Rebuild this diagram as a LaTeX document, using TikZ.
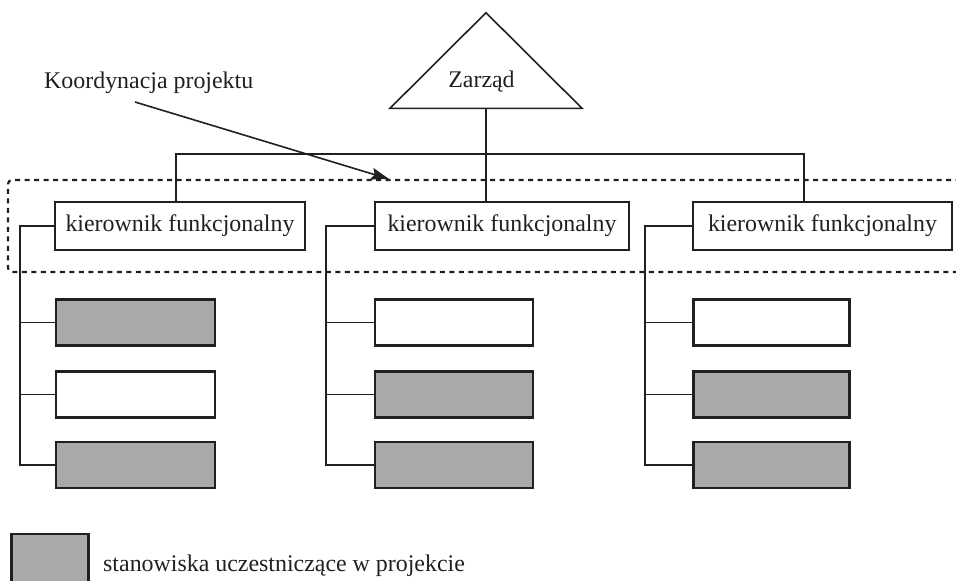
\documentclass[tikz,border=0pt]{standalone}
\usepackage{fontspec}
\setmainfont{Liberation Serif}
\usetikzlibrary{arrows.meta}
\definecolor{ink}{RGB}{35,31,32}
\definecolor{boxgray}{RGB}{168,170,169}
\begin{document}
\begin{tikzpicture}[x=1pt,y=-1pt,
  line/.style={draw=ink,line width=1.6pt},
  kier/.style={draw=ink,fill=white,line width=1.6pt,minimum height=48pt,inner sep=0pt,font=\fontsize{23.9}{28}\selectfont,text=ink},
  sub/.style={draw=ink,line width=2.3pt,minimum height=46pt,inner sep=0pt},
  filled/.style={sub,fill=boxgray},
  blank/.style={sub,fill=white},
  lbl/.style={font=\fontsize{23.9}{28}\selectfont,text=ink,inner sep=0pt},
  dashbox/.style={draw=ink,line width=2.2pt,dash pattern=on 5pt off 4.5pt,rounded corners=4pt},
]
\useasboundingbox (0,0) rectangle (956,581);

% dashed coordination frame (open to the right)
\draw[dashbox] (970,180) -- (8,180) -- (8,272) -- (970,272);

% board triangle
\coordinate (apex) at (486,12.7);
\coordinate (bl) at (390,108.3);
\coordinate (br) at (582,108.3);
\coordinate (zb) at (486,108.3);
\draw[line,line join=miter] (apex) -- (br) -- (bl) -- cycle;
\node[lbl,anchor=base] (zarzad) at (481.5,87) {Zarząd};

% functional managers
\node[kier,minimum width=250pt] (k1) at (180,226) {kierownik funkcjonalny};
\node[kier,minimum width=254pt] (k2) at (502,226) {kierownik funkcjonalny};
\node[kier,minimum width=259pt] (k3) at (822.5,226) {kierownik funkcjonalny};

% top distribution line
\coordinate (h1) at (176,154);
\coordinate (h2) at (486,154);
\coordinate (h3) at (804,154);
\draw[line] (zb) -- (k2.north -| zb);
\draw[line] (k1.north -| h1) -- (h1) -- (h3) -- (k3.north -| h3);

% sub positions column 1
\node[filled,minimum width=159pt] (s11) at (135.5,322.5) {};
\node[blank,minimum width=159pt] (s12) at (135.5,394.5) {};
\node[filled,minimum width=159pt] (s13) at (135.5,465.2) {};
% column 2
\node[blank,minimum width=158pt] (s21) at (454,322.5) {};
\node[filled,minimum width=158pt] (s22) at (454,394.5) {};
\node[filled,minimum width=158pt] (s23) at (454,465.2) {};
% column 3
\node[blank,minimum width=156pt] (s31) at (771.5,322.5) {};
\node[filled,minimum width=156pt] (s32) at (771.5,394.5) {};
\node[filled,minimum width=156pt] (s33) at (771.5,465.2) {};

% spines
\coordinate (sp1) at (20,226);
\coordinate (sp2) at (326,226);
\coordinate (sp3) at (645,226);
\draw[line] (k1.west) -- (sp1) |- (s13.west);
\draw[line] (sp1 |- s11.west) -- (s11.west);
\draw[line] (sp1 |- s12.west) -- (s12.west);
\draw[line] (k2.west) -- (sp2) |- (s23.west);
\draw[line] (sp2 |- s21.west) -- (s21.west);
\draw[line] (sp2 |- s22.west) -- (s22.west);
\draw[line] (k3.west) -- (sp3) |- (s33.west);
\draw[line] (sp3 |- s31.west) -- (s31.west);
\draw[line] (sp3 |- s32.west) -- (s32.west);

% coordination label and arrow
\node[lbl,anchor=base west] (koord) at (44,88) {Koordynacja projektu};
\coordinate (arrS) at (135,102);
\coordinate (arrE) at (389,179);
\draw[draw=ink,line width=1.6pt,-{Stealth[length=18pt,width=12pt,inset=3pt]},fill=ink] (arrS) -- (arrE);

% legend (cut off by the lower edge)
\node[filled,minimum width=77pt,minimum height=52pt] (leg) at (50,560) {};
\node[lbl,anchor=base west] (legtxt) at (103,571) {stanowiska uczestniczące w projekcie};
\end{tikzpicture}
\end{document}
